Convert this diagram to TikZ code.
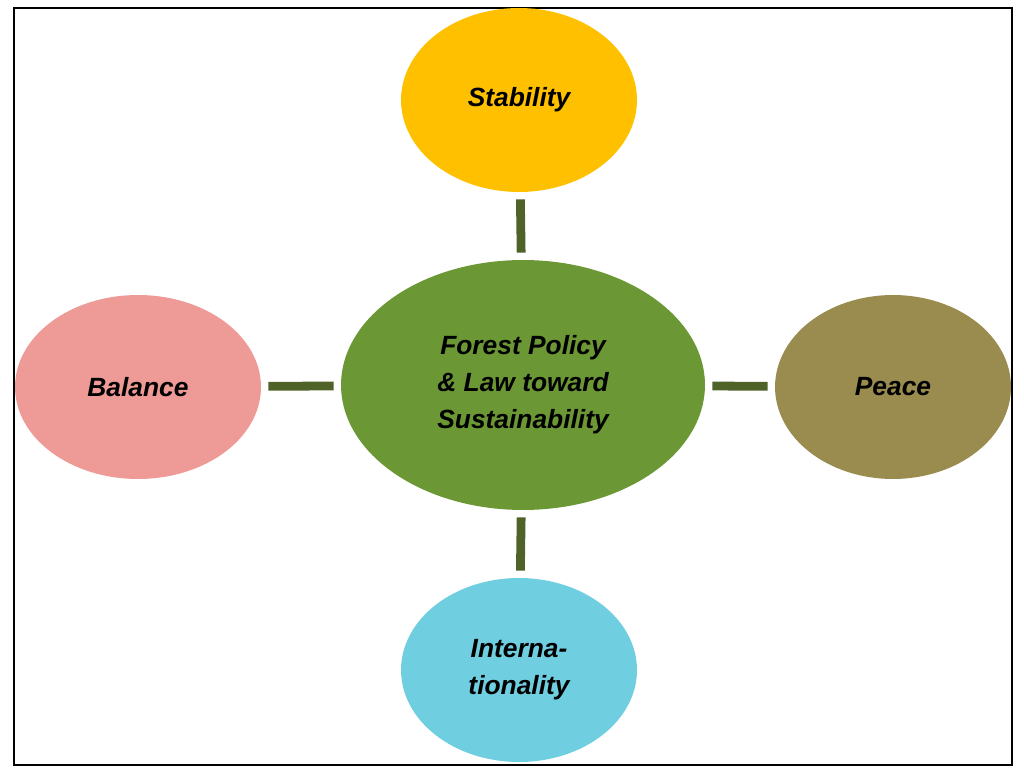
\documentclass[tikz,border=0pt]{standalone}
\usepackage{fontspec}
\setmainfont{Liberation Sans}
\usetikzlibrary{shapes.geometric}
\definecolor{stabcol}{HTML}{FFC000}
\definecolor{corecol}{HTML}{6B9734}
\definecolor{balcol}{HTML}{EE9A96}
\definecolor{peacecol}{HTML}{9A8B4F}
\definecolor{intcol}{HTML}{6FCEDF}
\definecolor{linkcol}{HTML}{4F6228}
\tikzset{
  bubble/.style={ellipse, inner sep=0pt, align=center,
    font=\fontsize{15}{21}\selectfont\bfseries\itshape},
  link/.style={draw=linkcol, line width=5pt, shorten <=4pt, shorten >=4pt}
}
\begin{document}
\begin{tikzpicture}[x=0.02cm,y=-0.02cm]
	
	% frame
	\useasboundingbox (0,0) rectangle (1024,780);
	\draw[black, line width=0.8pt] (14,8) rectangle (1012,765);
	
	% ellipses
	\node[bubble, fill=corecol, minimum width=7.28cm, minimum height=5cm] (core) at (523,385) {Forest Policy\\\& Law toward\\Sustainability};
	\node[bubble, fill=stabcol, minimum width=4.72cm, minimum height=3.68cm] (stab) at (519,100) {Stability};
	\node[bubble, fill=balcol, minimum width=4.92cm, minimum height=3.68cm] (bal) at (138,387) {Balance};
	\node[bubble, fill=peacecol, minimum width=4.72cm, minimum height=3.68cm] (peace) at (893,387) {Peace};
	\node[bubble, fill=intcol, minimum width=4.72cm, minimum height=3.68cm] (intl) at (519,670) {Interna-\\tionality};
	
	% links
	\draw[link] (stab) -- (core);
	\draw[link] (bal) -- (core);
	\draw[link] (peace) -- (core);
	\draw[link] (intl) -- (core);
\end{tikzpicture}
\end{document}
